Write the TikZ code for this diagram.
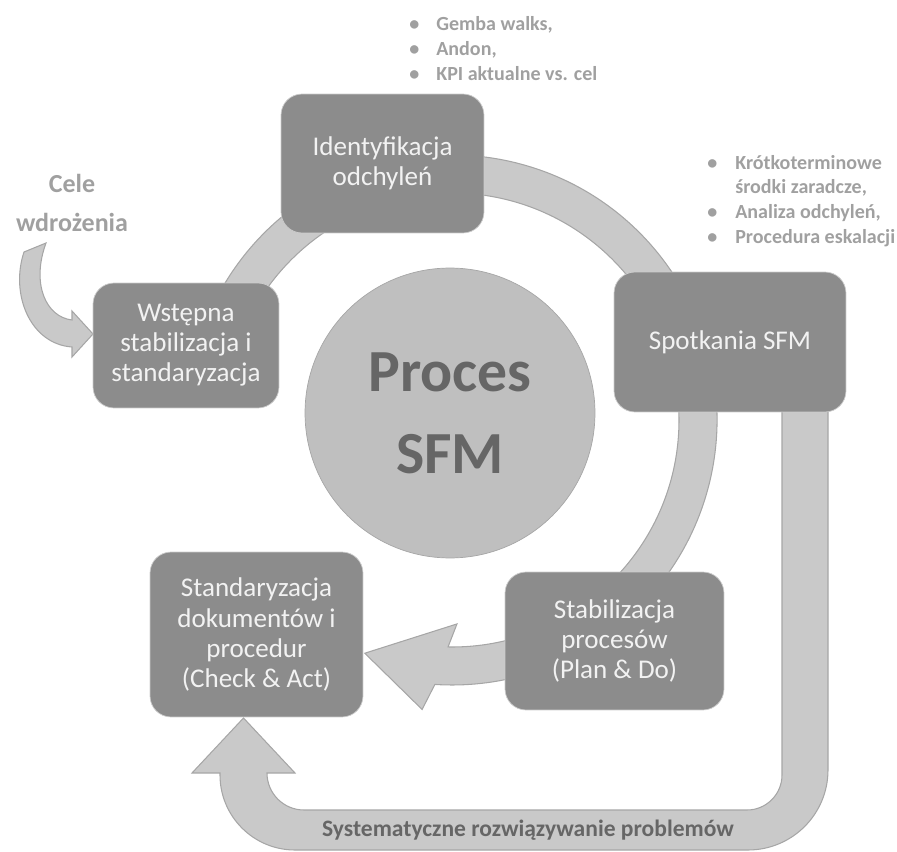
\documentclass[tikz,border=0pt]{standalone}
\usepackage{fontspec}
\setmainfont{Carlito}
\definecolor{boxgray}{HTML}{8C8C8C}
\definecolor{bandgray}{HTML}{C9C9C9}
\definecolor{edgegray}{HTML}{A6A6A6}
\definecolor{darktext}{HTML}{666666}
\definecolor{lighttext}{HTML}{A0A0A0}

\begin{document}
\begin{tikzpicture}[x=0.02cm,y=-0.02cm,
  sbox/.style={draw=white!80!black,fill=boxgray,rounded corners=0.42cm,text=white!95!black,align=center,font=\fontsize{15.4}{17.1}\selectfont,inner sep=0pt},
  band/.style={fill=bandgray,draw=edgegray,line width=0.6pt},
  note/.style={text=lighttext,font=\bfseries\fontsize{11.4}{14.2}\selectfont,anchor=base west,inner sep=0pt}]
  \useasboundingbox (0,0) rectangle (897,852);
  \begin{scope}[shift={(452,420)}]
    \filldraw[band] (195:265) arc[start angle=195,end angle=453.7,radius=265] -- (455.9:291) -- (470.5:249) -- (448.6:204) -- (451:227) arc[start angle=451,end angle=195,radius=227] -- cycle;
  \end{scope}
  \filldraw[band] (828,400) -- (828,770) arc[start angle=0,end angle=90,radius=80] -- (295,850) arc[start angle=90,end angle=180,radius=75] -- (220,773) -- (192,773) -- (243.5,718) -- (295,773) -- (267,773) arc[start angle=180,end angle=90,radius=37] -- (747,810) arc[start angle=90,end angle=0,radius=35] -- (782,400) -- cycle;
  \filldraw[band] (24,252) .. controls (10,294) and (30,344) .. (72,347) -- (72,357) -- (93,334) -- (72,311) -- (72,320) .. controls (46,317) and (31,284) .. (46,243) -- cycle;
  \node[circle,fill=bandgray!95!black,draw=edgegray,minimum size=5.8cm,inner sep=0pt,text=darktext,font=\bfseries\fontsize{34}{46.7}\selectfont,align=center] (proces) at (450,413) {Proces\\SFM};
  \node[sbox,minimum width=4.06cm,minimum height=2.78cm] (ident) at (382.5,163.5) {Identyfikacja\\odchyleń};
  \node[sbox,minimum width=3.72cm,minimum height=2.5cm] (wstep) at (186,345.5) {Wstępna\\stabilizacja i\\standaryzacja};
  \node[sbox,minimum width=4.64cm,minimum height=2.8cm] (spotk) at (730,342) {Spotkania SFM};
  \node[sbox,minimum width=4.38cm,minimum height=2.76cm] (stabil) at (614.5,641) {Stabilizacja\\procesów\\(Plan \& Do)};
  \node[sbox,minimum width=4.26cm,minimum height=3.3cm] (standard) at (256.5,634.5) {Standaryzacja\\dokumentów i\\procedur\\(Check \& Act)};
  \node[text=lighttext,font=\bfseries\fontsize{14.8}{22.2}\selectfont,align=center] (cele) at (72,203) {Cele\\wdrożenia};
  \node[note] (gemba) at (409,31) {\begin{tabular}[t]{@{}p{0.54cm}@{}l@{}}•&Gemba walks,\\•&Andon,\\•&KPI aktualne vs. cel\end{tabular}};
  \node[note] (srodki) at (707,169) {\begin{tabular}[t]{@{}p{0.56cm}@{}l@{}}•&Krótkoterminowe\\&środki zaradcze,\\•&Analiza odchyleń,\\•&Procedura eskalacji\end{tabular}};
  \node[text=darktext,font=\bfseries\fontsize{13.4}{15}\selectfont] (syst) at (528,830) {Systematyczne rozwiązywanie problemów};
\end{tikzpicture}
\end{document}
